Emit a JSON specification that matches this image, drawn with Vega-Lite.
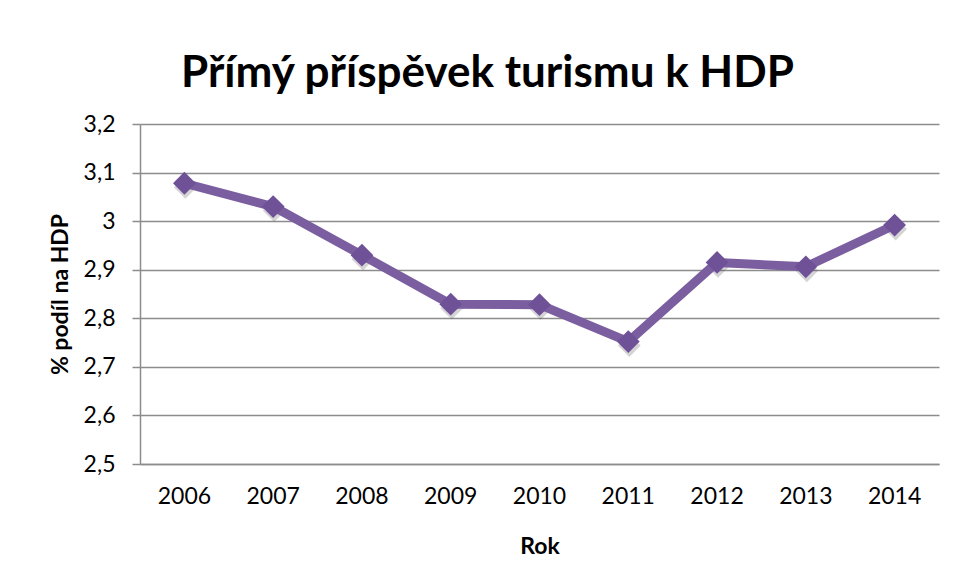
{
  "$schema": "https://vega.github.io/schema/vega-lite/v6.json",
  "width": 799,
  "height": 340,
  "autosize": {"type": "none"},
  "padding": {"left": 140, "top": 124, "right": 14, "bottom": 116},
  "background": "white",
  "title": {
    "text": "Přímý příspěvek turismu k HDP",
    "font": "Lato",
    "fontSize": 44,
    "fontWeight": "bold",
    "color": "#000000",
    "anchor": "middle",
    "dx": -52,
    "offset": 17
  },
  "data": {
    "values": [
      {"Rok": "2006", "podil": 3.078},
      {"Rok": "2007", "podil": 3.030},
      {"Rok": "2008", "podil": 2.930},
      {"Rok": "2009", "podil": 2.829},
      {"Rok": "2010", "podil": 2.828},
      {"Rok": "2011", "podil": 2.752},
      {"Rok": "2012", "podil": 2.915},
      {"Rok": "2013", "podil": 2.906},
      {"Rok": "2014", "podil": 2.992}
    ]
  },
  "encoding": {
    "x": {
      "field": "Rok",
      "type": "ordinal",
      "scale": {"type": "band", "paddingInner": 0, "paddingOuter": 0},
      "axis": {
        "title": "Rok",
        "labelAngle": 0,
        "ticks": false,
        "grid": false,
        "labelPadding": 21,
        "titlePadding": 27
      }
    },
    "y": {
      "field": "podil",
      "type": "quantitative",
      "scale": {"domain": [2.5, 3.2], "nice": false, "zero": false},
      "axis": {
        "title": "% podíl na HDP",
        "values": [2.5, 2.6, 2.7, 2.8, 2.9, 3.0, 3.1, 3.2],
        "labelExpr": "replace(format(datum.value, '.2~g'), '.', ',')",
        "tickSize": 8,
        "labelPadding": 17,
        "titlePadding": 11,
        "grid": true
      }
    }
  },
  "layer": [
    {
      "mark": {"type": "point", "shape": "diamond", "filled": true, "size": 520, "color": "#555555", "opacity": 0.25, "xOffset": 1, "yOffset": 4}
    },
    {
      "mark": {"type": "line", "color": "#7b5e9f", "strokeWidth": 9, "strokeJoin": "round"}
    },
    {
      "mark": {"type": "point", "shape": "diamond", "filled": true, "size": 520, "color": "#6f5197", "opacity": 1}
    }
  ],
  "config": {
    "view": {"stroke": null},
    "axis": {
      "labelFont": "Lato",
      "labelFontSize": 23,
      "labelColor": "#000000",
      "titleFont": "Lato",
      "titleFontSize": 23,
      "titleFontWeight": "bold",
      "titleColor": "#000000",
      "domainColor": "#8c8c8c",
      "domainWidth": 1.5,
      "tickColor": "#8c8c8c",
      "tickWidth": 1.5,
      "gridColor": "#8c8c8c",
      "gridWidth": 1.5,
      "gridOpacity": 1
    }
  }
}
